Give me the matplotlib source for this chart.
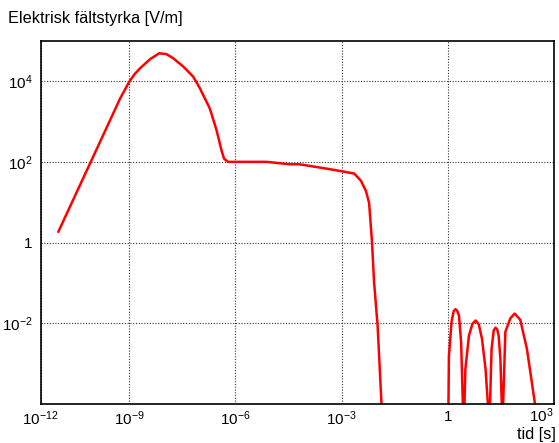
import numpy as np
import matplotlib
matplotlib.use('Agg')
import matplotlib.pyplot as plt

plt.rcParams['font.family'] = ['Liberation Sans', 'DejaVu Sans']
plt.rcParams['mathtext.fontset'] = 'custom'
plt.rcParams['mathtext.rm'] = 'Liberation Sans'

# curve, log10(t) and log10(E)
main_logt = [-11.0, -10.0, -9.25, -9.0, -8.85, -8.69, -8.4, -8.15, -7.95, -7.76, -7.47, -7.19, -7.0,
             -6.72, -6.53, -6.39, -6.32, -6.21, -5.12, -4.47, -4.19, -3.34, -2.64,
             -2.45, -2.31, -2.22, -2.14, -2.08, -1.98, -1.87, -1.8]
main_logE = [0.27, 2.16, 3.58, 3.98, 4.17, 4.32, 4.55, 4.69, 4.67, 4.57, 4.36, 4.11, 3.82,
             3.32, 2.78, 2.28, 2.08, 2.0, 2.0, 1.94, 1.94, 1.82, 1.71,
             1.53, 1.28, 0.98, 0.03, -0.98, -2.06, -4.0, -6.0]

lobe_logt = [0.0, 0.035, 0.11, 0.17, 0.22, 0.27, 0.32, 0.38, 0.43, 0.44,
             0.45, 0.46, 0.5, 0.6, 0.7, 0.79, 0.88, 0.97, 1.07, 1.14, 1.16,
             1.17, 1.19, 1.24, 1.30, 1.35, 1.40, 1.44, 1.49, 1.53, 1.545,
             1.55, 1.56, 1.63, 1.77, 1.89, 2.05, 2.24, 2.47, 2.55]
lobe_logE = [-6.0, -2.81, -1.96, -1.7, -1.65, -1.69, -1.81, -2.48, -4.05, -6.0,
             -6.0, -4.5, -3.14, -2.31, -2.01, -1.93, -2.03, -2.39, -3.14, -4.05, -6.0,
             -6.0, -4.2, -2.64, -2.18, -2.11, -2.15, -2.31, -2.89, -4.05, -6.0,
             -6.0, -4.2, -2.21, -1.88, -1.76, -1.91, -2.64, -4.02, -6.0]

xticks = [10**-11.5, 1e-9, 1e-6, 1e-3, 1, 1e3]
xlabels = [r'$\mathregular{10^{-12}}$', r'$\mathregular{10^{-9}}$', r'$\mathregular{10^{-6}}$',
           r'$\mathregular{10^{-3}}$', '1', r'$\mathregular{10^{3}}$']
yticks = [1e-2, 1, 1e2, 1e4]
ylabels = [r'$\mathregular{10^{-2}}$', '1', r'$\mathregular{10^{2}}$', r'$\mathregular{10^{4}}$']

fig = plt.figure(figsize=(5.59, 4.43), dpi=100)
ax = fig.add_axes([0.0728, 0.088, 0.918, 0.82])

ax.plot(10 ** np.array(main_logt), 10 ** np.array(main_logE), color='red', lw=1.8)
ax.plot(10 ** np.array(lobe_logt), 10 ** np.array(lobe_logE), color='red', lw=1.8)

ax.set_xscale('log')
ax.set_yscale('log')
ax.set_xlim(10**-11.5, 1e3)
ax.set_ylim(1e-4, 1e5)
ax.set_xticks(xticks)
ax.set_xticklabels(xlabels)
ax.set_yticks(yticks)
ax.set_yticklabels(ylabels)
ax.minorticks_off()
ax.tick_params(length=0, labelsize=11, pad=6)
ax.tick_params(axis='x', pad=4)
last = ax.get_xticklabels()[-1]
last.set_horizontalalignment('right')
last.set_verticalalignment('bottom')
last.set_y(-0.042)
ax.grid(True, ls=(0, (1, 1.5)), color='#333333', lw=0.8)
for s in ax.spines.values():
    s.set_linewidth(1.2)

fig.text(0.014, 0.958, 'Elektrisk fältstyrka [V/m]', fontsize=11.7, va='center', ha='left')
fig.text(0.995, 0.002, 'tid [s]', fontsize=11.7, va='bottom', ha='right')

fig.savefig('out.png', dpi=100)
